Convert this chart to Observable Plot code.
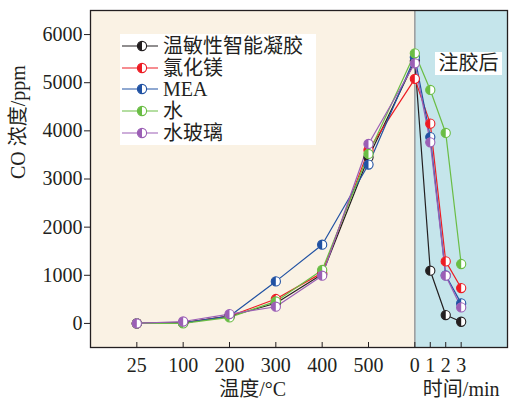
<!DOCTYPE html>
<html><head><meta charset="utf-8">
<script src="https://cdn.jsdelivr.net/npm/d3@7"></script>
<script src="https://cdn.jsdelivr.net/npm/@observablehq/plot@0.6"></script>
<style>
body{margin:0;background:#fff;}
#wrap{position:relative;width:509px;height:401px;font-family:"Liberation Serif","Noto Sans CJK SC",serif;color:#231f20;}
#legend{position:absolute;left:120px;top:34px;width:196px;height:111px;background:#fff;padding-top:1px;box-sizing:border-box;}
.row{display:flex;align-items:center;height:21.75px;font-size:20px;line-height:20px;}
.row svg{flex:none;}
#tag{position:absolute;left:435px;top:52px;width:67px;height:23px;background:#fff;font-size:20px;line-height:23px;text-align:center;}
</style></head><body><div id="wrap"></div>
<script>
// categories
const temps = [25, 100, 200, 300, 400, 500];     // 温度/°C
const times = [0, 1, 2, 3];                        // 时间/min (注胶后)
const seriesNames = ["温敏性智能凝胶", "氯化镁", "MEA", "水", "水玻璃"];
const seriesColors = ["#231f20", "#ed1c24", "#2152a3", "#6abd45", "#9b5fb5"];
const yTicks = [0, 1000, 2000, 3000, 4000, 5000, 6000];

// CO concentration (ppm) during heating
const gelTemp   = [0, 10, 150, 420, 1020, 3450];
const mgcl2Temp = [0, 10, 150, 507, 1050, 3600];
const meaTemp   = [0, 10, 150, 873, 1635, 3300];
const waterTemp = [0, 0, 125, 457, 1110, 3520];
const glassTemp = [0, 40, 195, 347, 991, 3728];
// CO concentration (ppm) after grouting
const gelTime   = [5450, 1095, 174, 35];
const mgcl2Time = [5080, 4150, 1288, 735];
const meaTime   = [5530, 3870, 1000, 416];
const waterTime = [5611, 4850, 3957, 1234];
const glassTime = [5403, 3762, 991, 333];

const tempSets = [gelTemp, mgcl2Temp, meaTemp, waterTemp, glassTemp];
const timeSets = [gelTime, mgcl2Time, meaTime, waterTime, glassTime];

// axis position helpers (categorical layout: temps evenly spaced, time compressed)
const posTemp = i => i + 1;
const posTime = t => temps.length + 1 + t / 3;

const rows = [];
seriesNames.forEach((name, s) => {
  temps.forEach((T, i) => rows.push({series: name, x: posTemp(i), y: tempSets[s][i]}));
  times.forEach((t, i) => rows.push({series: name, x: posTime(t), y: timeSets[s][i]}));
});

const tickPos = [...temps.map((T, i) => posTemp(i)), ...times.map(t => posTime(t))];
const tickLab = new Map(tickPos.map((p, i) => [p, String(i < temps.length ? temps[i] : times[i - temps.length])]));

const xDomain = [0, posTime(times[times.length - 1]) + 1];
const yDomain = [-500, 6500];
const regions = [
  {x1: xDomain[0], x2: posTime(0), fill: "#faf2e4"},
  {x1: posTime(0), x2: xDomain[1], fill: "#c5e5eb"}
];

const halfLeft = {
  draw(ctx, size) {
    const r = Math.sqrt(size / Math.PI);
    ctx.moveTo(0, -r);
    ctx.arc(0, 0, r, -Math.PI / 2, Math.PI / 2, true);
    ctx.closePath();
  }
};

const font = '"Liberation Serif","Noto Sans CJK SC",serif';
const marks = [
  Plot.rect(regions, {x1: "x1", x2: "x2", y1: yDomain[0], y2: yDomain[1], fill: "fill"}),
  Plot.ruleX([posTime(0)], {stroke: "#9a9a9a", strokeWidth: 1.5}),
];
seriesNames.forEach((name, s) => {
  const d = rows.filter(r => r.series === name);
  marks.push(Plot.line(d, {x: "x", y: "y", stroke: seriesColors[s], strokeWidth: 1.2}));
});
seriesNames.forEach((name, s) => {
  const d = rows.filter(r => r.series === name);
  marks.push(Plot.dot(d, {x: "x", y: "y", r: 4.6, fill: "white", stroke: "none"}));
  marks.push(Plot.dot(d, {x: "x", y: "y", r: 4.6, symbol: halfLeft, fill: seriesColors[s], stroke: "none"}));
  marks.push(Plot.dot(d, {x: "x", y: "y", r: 4.6, fill: "none", stroke: seriesColors[s], strokeWidth: 1.1}));
});
marks.push(
  Plot.axisY({ticks: yTicks, tickSize: 6, tickPadding: 2, fontSize: 20, label: null, stroke: "#231f20", tickFormat: d => String(d)}),
  Plot.axisX({ticks: tickPos, tickSize: 0, tickPadding: 10, fontSize: 20, label: null, tickFormat: d => tickLab.get(d)}),
  Plot.axisX({ticks: tickPos, tickSize: 5, dy: -5, label: null, tickFormat: () => "", stroke: "#231f20"}),
  Plot.text([{x: 3.5, t: "温度/°C"}, {x: posTime(3), t: "时间/min"}], {x: "x", text: "t", frameAnchor: "bottom", dy: 42, fontSize: 20, lineAnchor: "middle"}),
  Plot.text(["CO 浓度/ppm"], {frameAnchor: "left", dx: -72, rotate: -90, fontSize: 20, lineAnchor: "middle"}),
  Plot.frame({stroke: "#231f20", strokeWidth: 1.3})
);

const chart = Plot.plot({
  width: 509, height: 401,
  marginLeft: 90, marginRight: 2, marginTop: 10, marginBottom: 54,
  x: {domain: xDomain},
  y: {domain: yDomain},
  style: {fontFamily: font, fontSize: "20px", background: "transparent", color: "#231f20", overflow: "visible"},
  marks
});
const wrap = document.getElementById("wrap");
wrap.appendChild(chart);

// legend
const legend = document.createElement("div");
legend.id = "legend";
seriesNames.forEach((name, s) => {
  const row = document.createElement("div");
  row.className = "row";
  const c = seriesColors[s];
  row.innerHTML = `<svg width="43" height="20" viewBox="0 0 43 20">
    <line x1="2" x2="38" y1="10" y2="10" stroke="${c}" stroke-width="1.2"/>
    <circle cx="22" cy="10" r="4.6" fill="white"/>
    <path d="M22,5.4 A4.6,4.6 0 0 0 22,14.6 Z" fill="${c}"/>
    <circle cx="22" cy="10" r="4.6" fill="none" stroke="${c}" stroke-width="1.1"/>
  </svg><span>${name}</span>`;
  legend.appendChild(row);
});
wrap.appendChild(legend);

const tag = document.createElement("div");
tag.id = "tag";
tag.textContent = "注胶后";
wrap.appendChild(tag);
</script>
</body></html>
